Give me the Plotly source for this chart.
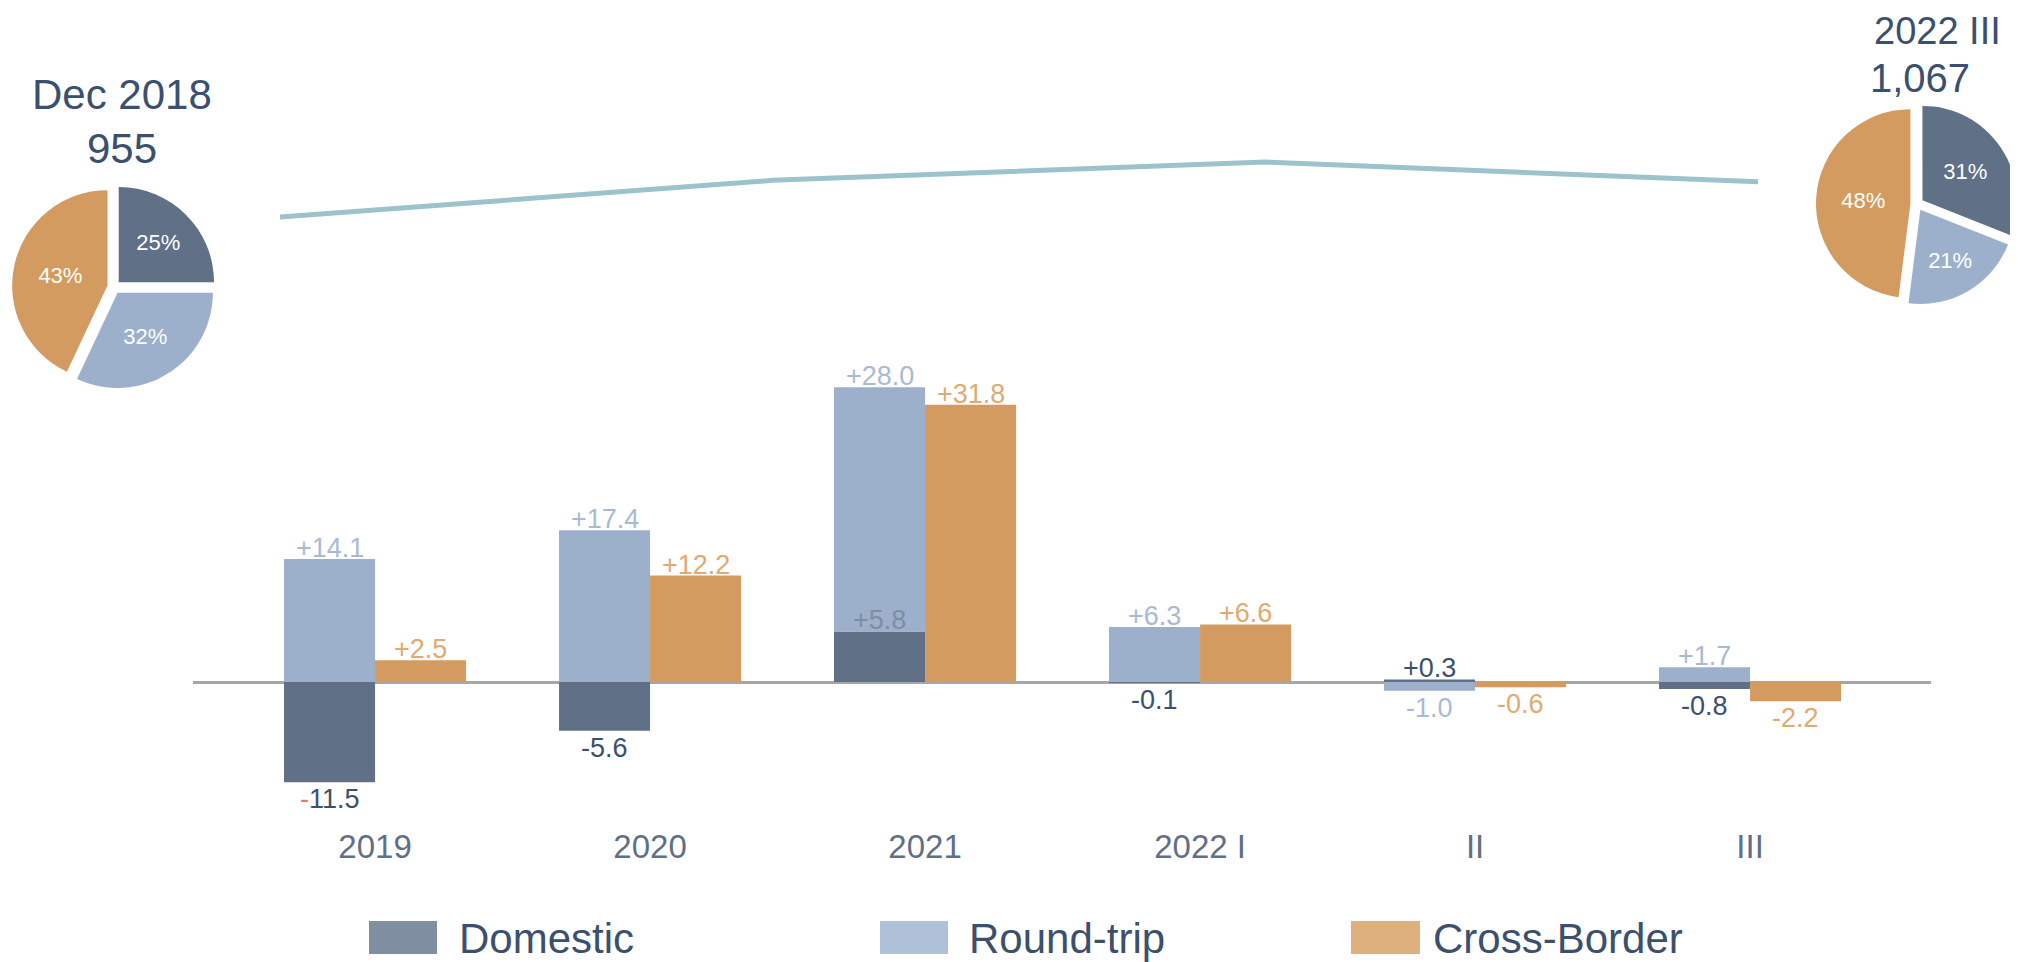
import plotly.graph_objects as go

# ---------------- data ----------------
categories = ["2019", "2020", "2021", "2022 I", "II", "III"]
domestic = [-11.5, -5.6, 5.8, -0.1, 0.3, -0.8]
round_trip = [14.1, 17.4, 28.0, 6.3, -1.0, 1.7]
cross_border = [2.5, 12.2, 31.8, 6.6, -0.6, -2.2]

series_names = ["Domestic", "Round-trip", "Cross-Border"]
pie_start_title = "Dec 2018"
pie_start_total = "955"
pie_start_shares = [25, 32, 43]
pie_end_title = "2022 III"
pie_end_total = "1,067"
pie_end_shares = [31, 21, 48]

trend_points = [0, 1, 2, 3]
trend_values = [955, 1005, 1030, 1003]

# ---------------- styles ----------------
FONT = "Liberation Sans, Arial, sans-serif"
C_DOM = "#5F7087"
C_RT = "#9DB0CB"
C_CB = "#D39B5F"
C_DOM_LEG = "#808EA2"
C_RT_LEG = "#AFC1D8"
C_CB_LEG = "#DDB07E"
C_TXT = "#3B4F6E"
C_TICK = "#5F6F87"
C_RT_LBL = "#A8BAD3"
C_CB_LBL = "#E0AA70"
C_DOM_INNER = "#7F8DA1"
C_LINE = "#9CC2CB"

PAGE_OFF = 8  # default body margin of the html page
W, H = 2018 - PAGE_OFF, 962 - PAGE_OFF
BW = 0.331  # bar width in category units


def px(xp):
    return (xp - PAGE_OFF) / W


def py(yp):
    return 1 - (yp - PAGE_OFF) / H


x = list(range(len(categories)))

# stacking base for round-trip (relative stacking on domestic)
rt_base = [(d if d * r > 0 else 0) for d, r in zip(domestic, round_trip)]
rt_end = [b + r for b, r in zip(rt_base, round_trip)]

fig = go.Figure()

fig.add_trace(go.Bar(x=x, y=domestic, base=[0] * len(x), offset=-BW, width=BW,
                     marker=dict(color=C_DOM, line=dict(width=0)), name=series_names[0],
                     showlegend=False, hoverinfo="skip"))
fig.add_trace(go.Bar(x=x, y=round_trip, base=rt_base, offset=-BW, width=BW,
                     marker=dict(color=C_RT, line=dict(width=0)), name=series_names[1],
                     showlegend=False, hoverinfo="skip"))
fig.add_trace(go.Bar(x=x, y=cross_border, base=[0] * len(x), offset=0, width=BW,
                     marker=dict(color=C_CB, line=dict(width=0)), name=series_names[2],
                     showlegend=False, hoverinfo="skip"))


def fmt(v, red_minus=False):
    s = f"{v:+.1f}"
    if red_minus and v < 0:
        return '<span style="color:#E8776E">-</span>' + s[1:]
    return s


# data labels (annotations anchored at the bar ends, in data coordinates)
xl = [i - BW / 2 for i in x]
xr = [i + BW / 2 for i in x]


def add_label(xv, yv, v, color, red_minus=False):
    pos = v > 0
    fig.add_annotation(x=xv, y=yv, xref="x", yref="y", text=fmt(v, red_minus),
                       showarrow=False, xanchor="center",
                       yanchor="bottom" if pos else "top",
                       yshift=-6 if pos else 0,
                       font=dict(family=FONT, size=27, color=color))


for i in x:
    d = domestic[i]
    inside_rt = d > 0 and rt_base[i] == d
    add_label(xl[i], d, d, C_DOM_INNER if inside_rt else C_TXT, red_minus=(i == 0))
    add_label(xl[i], rt_end[i], round_trip[i], C_RT_LBL)
    add_label(xr[i], cross_border[i], cross_border[i], C_CB_LBL)

# trend line
fig.add_trace(go.Scatter(x=trend_points, y=trend_values, mode="lines",
                         line=dict(color=C_LINE, width=5),
                         xaxis="x2", yaxis="y2", showlegend=False, hoverinfo="skip"))

# pies
pie_common = dict(labels=series_names, sort=False, direction="clockwise", rotation=0,
                  marker=dict(colors=[C_DOM, C_RT, C_CB], line=dict(width=0)),
                  textinfo="percent", textposition="inside",
                  insidetextorientation="horizontal",
                  textfont=dict(family=FONT, size=22, color="white"),
                  pull=[0.07, 0.07, 0.07], showlegend=False, hoverinfo="skip")
fig.add_trace(go.Pie(values=pie_start_shares,
                     domain=dict(x=[px(12), px(216)], y=[py(389), py(185)]), **pie_common))
fig.add_trace(go.Pie(values=pie_end_shares,
                     domain=dict(x=[px(1816), 1.0], y=[py(306), py(102)]), **pie_common))

# axes
zero_y = 682
scale = 8.72
bottom, top = 824, 300
fig.update_layout(
    width=W, height=H,
    margin=dict(l=0, r=0, t=0, b=0),
    paper_bgcolor="white", plot_bgcolor="white",
    barmode="overlay",
    font=dict(family=FONT, color=C_TXT),
    xaxis=dict(domain=[px(193), px(1931)], range=[-0.662, 5.658],
               tickvals=x, ticktext=categories, showgrid=False, zeroline=False,
               showline=False, ticks="", tickfont=dict(family=FONT, size=33, color=C_TICK)),
    yaxis=dict(domain=[py(bottom), py(top)],
               range=[-(bottom - zero_y) / scale, (zero_y - top) / scale],
               showgrid=False, showticklabels=False, ticks="",
               zeroline=True, zerolinecolor="#A6A6A6", zerolinewidth=2.5),
    xaxis2=dict(domain=[px(280), px(1758)], range=[0, 3], visible=False, anchor="y2"),
    yaxis2=dict(domain=[py(250), py(100)], range=[910, 1114.6], visible=False, anchor="x2"),
)

# titles above pies
ann = [
    (122, 95, pie_start_title, "center", 42), (122, 149, pie_start_total, "center", 42),
    (2003, 31, pie_end_title, "right", 38), (1920, 78, pie_end_total, "center", 40),
]
for ax_, ay_, t, anc, fs in ann:
    fig.add_annotation(x=px(ax_), y=py(ay_), xref="paper", yref="paper", text=t,
                       showarrow=False, xanchor=anc, yanchor="middle",
                       font=dict(family=FONT, size=fs, color=C_TXT))

# custom legend (wide rectangles + text)
leg = [(369, 437, 457, series_names[0], C_DOM_LEG),
       (880, 948, 967, series_names[1], C_RT_LEG),
       (1351, 1420, 1431, series_names[2], C_CB_LEG)]
for x0, x1, tx, name, col in leg:
    fig.add_shape(type="rect", xref="paper", yref="paper",
                  x0=px(x0), x1=px(x1), y0=py(954), y1=py(921),
                  fillcolor=col, line=dict(width=0))
    fig.add_annotation(x=px(tx), y=py(938), xref="paper", yref="paper", text=name,
                       showarrow=False, xanchor="left", yanchor="middle",
                       font=dict(family=FONT, size=42, color=C_TXT))

fig.write_html("out.html")
